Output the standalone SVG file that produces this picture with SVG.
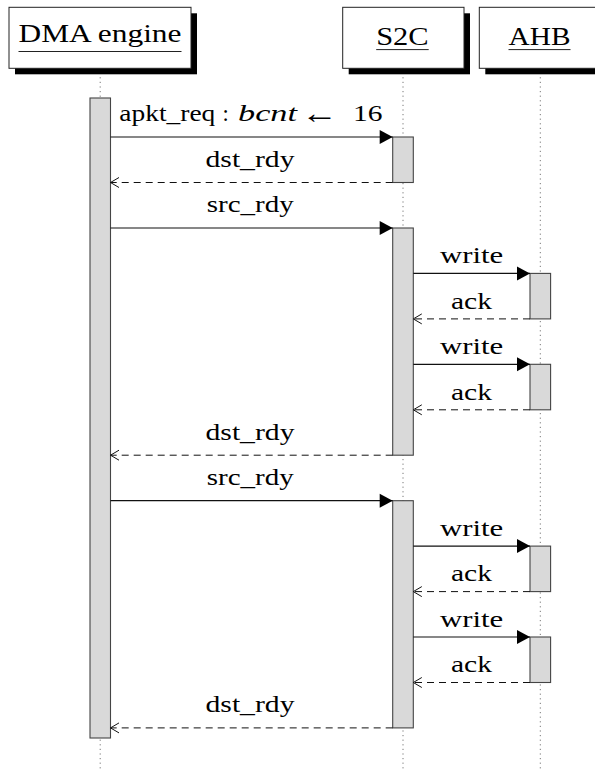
<svg xmlns="http://www.w3.org/2000/svg" width="595" height="771" viewBox="0 0 595 771">
  <style>
    .lifeline { stroke: #777; stroke-width: 1; stroke-dasharray: 1.2 3.4; fill: none; }
    .head { fill: #fff; stroke: #222; stroke-width: 1; }
    .shadow { fill: #000; }
    .title { font-family: 'Liberation Serif', 'Times New Roman', serif; font-size: 25px; fill: #000; }
    .uline { stroke: #222; stroke-width: 1; }
    .bar { fill: #d9d9d9; stroke: #444; stroke-width: 1.1; }
    .call { stroke: #111; stroke-width: 1.2; fill: none; marker-end: url(#tip); }
    .reply { stroke: #111; stroke-width: 1; fill: none; stroke-dasharray: 7 5; marker-end: url(#open); }
    .lbl { font-family: 'Liberation Serif', 'Times New Roman', serif; font-size: 22.5px; fill: #000; }
    .it { font-style: italic; }
    .sym { font-size: 30px; }
  </style>
  <defs>
    <marker id="tip" markerUnits="userSpaceOnUse" markerWidth="14" markerHeight="15" refX="13" refY="7" orient="auto" overflow="visible">
      <path d="M0,0 L13,7 L0,14 z" fill="#000"/>
    </marker>
    <marker id="open" markerUnits="userSpaceOnUse" markerWidth="10" markerHeight="12" refX="8.5" refY="5" orient="auto" overflow="visible">
      <path d="M0,0 L8.5,5 L0,10" fill="none" stroke="#111" stroke-width="1"/>
    </marker>
  </defs>

  <!-- lifelines -->
  <g id="lifelines">
    <line class="lifeline" x1="100.2" y1="68" x2="100.2" y2="771"/>
    <line class="lifeline" x1="403" y1="68" x2="403" y2="771"/>
    <line class="lifeline" x1="540.3" y1="68" x2="540.3" y2="771"/>
  </g>

  <!-- participant heads -->
  <g id="dma">
    <rect class="shadow" x="15" y="13.3" width="182" height="61"/>
    <rect class="head" x="9" y="7.3" width="182" height="61"/>
    <text class="title" x="18.5" y="41.5" textLength="163" lengthAdjust="spacingAndGlyphs">DMA engine</text>
    <line class="uline" x1="18.5" y1="51.5" x2="181.5" y2="51.5"/>
  </g>
  <g id="s2c">
    <rect class="shadow" x="348.7" y="13.3" width="121.3" height="61"/>
    <rect class="head" x="342.7" y="7.3" width="121.3" height="61"/>
    <text class="title" x="376.2" y="45.3" textLength="52.5" lengthAdjust="spacingAndGlyphs">S2C</text>
    <line class="uline" x1="376.2" y1="49.6" x2="428.7" y2="49.6"/>
  </g>
  <g id="ahb">
    <rect class="shadow" x="485.3" y="13.3" width="121.3" height="61"/>
    <rect class="head" x="479.3" y="7.3" width="121.3" height="61"/>
    <text class="title" x="508.5" y="45.3" textLength="62" lengthAdjust="spacingAndGlyphs">AHB</text>
    <line class="uline" x1="508.5" y1="49.6" x2="570.5" y2="49.6"/>
  </g>

  <!-- activation bars -->
  <g id="activations">
    <rect class="bar" x="90" y="98" width="20.5" height="640"/>
    <rect class="bar" x="392.7" y="137" width="20.6" height="45.5"/>
    <rect class="bar" x="392.7" y="228" width="20.6" height="227.2"/>
    <rect class="bar" x="392.7" y="500.7" width="20.6" height="227.2"/>
    <rect class="bar" x="530" y="273.4" width="20.6" height="45.5"/>
    <rect class="bar" x="530" y="364.3" width="20.6" height="45.5"/>
    <rect class="bar" x="530" y="546.1" width="20.6" height="45.5"/>
    <rect class="bar" x="530" y="637" width="20.6" height="45.5"/>
  </g>

  <!-- messages -->
  <g id="connectors">
    <line class="call" x1="110.5" y1="137" x2="392.7" y2="137"/>
    <line class="reply" x1="392.7" y1="182.5" x2="110.5" y2="182.5"/>
    <line class="call" x1="110.5" y1="228" x2="392.7" y2="228"/>
    <line class="call" x1="413.3" y1="273.4" x2="530" y2="273.4"/>
    <line class="reply" x1="530" y1="318.9" x2="413.3" y2="318.9"/>
    <line class="call" x1="413.3" y1="364.3" x2="530" y2="364.3"/>
    <line class="reply" x1="530" y1="409.8" x2="413.3" y2="409.8"/>
    <line class="reply" x1="392.7" y1="455.2" x2="110.5" y2="455.2"/>
    <line class="call" x1="110.5" y1="500.7" x2="392.7" y2="500.7"/>
    <line class="call" x1="413.3" y1="546.1" x2="530" y2="546.1"/>
    <line class="reply" x1="530" y1="591.6" x2="413.3" y2="591.6"/>
    <line class="call" x1="413.3" y1="637" x2="530" y2="637"/>
    <line class="reply" x1="530" y1="682.5" x2="413.3" y2="682.5"/>
    <line class="reply" x1="392.7" y1="727.9" x2="110.5" y2="727.9"/>
  </g>

  <!-- message labels -->
  <g id="labels">
    <text class="lbl" x="119.3" y="121.2" textLength="96" lengthAdjust="spacingAndGlyphs">apkt_req</text>
    <text class="lbl" x="222.5" y="121.2">:</text>
    <text class="lbl it" x="238" y="121.2" textLength="59" lengthAdjust="spacingAndGlyphs">bcnt</text>
    <text class="lbl sym" x="301" y="123" textLength="37" lengthAdjust="spacingAndGlyphs">←</text>
    <text class="lbl" x="353" y="121.2" textLength="29.5" lengthAdjust="spacingAndGlyphs">16</text>

    <text class="lbl" x="205.5" y="166.8" textLength="89" lengthAdjust="spacingAndGlyphs">dst_rdy</text>
    <text class="lbl" x="206.8" y="212.3" textLength="87" lengthAdjust="spacingAndGlyphs">src_rdy</text>
    <text class="lbl" x="440" y="263.3" textLength="63.3" lengthAdjust="spacingAndGlyphs">write</text>
    <text class="lbl" x="451" y="308.6" textLength="41" lengthAdjust="spacingAndGlyphs">ack</text>
    <text class="lbl" x="440" y="354.2" textLength="63.3" lengthAdjust="spacingAndGlyphs">write</text>
    <text class="lbl" x="451" y="399.5" textLength="41" lengthAdjust="spacingAndGlyphs">ack</text>
    <text class="lbl" x="205.5" y="439.5" textLength="89" lengthAdjust="spacingAndGlyphs">dst_rdy</text>
    <text class="lbl" x="206.8" y="485" textLength="87" lengthAdjust="spacingAndGlyphs">src_rdy</text>
    <text class="lbl" x="440" y="536" textLength="63.3" lengthAdjust="spacingAndGlyphs">write</text>
    <text class="lbl" x="451" y="581.3" textLength="41" lengthAdjust="spacingAndGlyphs">ack</text>
    <text class="lbl" x="440" y="626.9" textLength="63.3" lengthAdjust="spacingAndGlyphs">write</text>
    <text class="lbl" x="451" y="672.2" textLength="41" lengthAdjust="spacingAndGlyphs">ack</text>
    <text class="lbl" x="205.5" y="712.2" textLength="89" lengthAdjust="spacingAndGlyphs">dst_rdy</text>
  </g>
</svg>
